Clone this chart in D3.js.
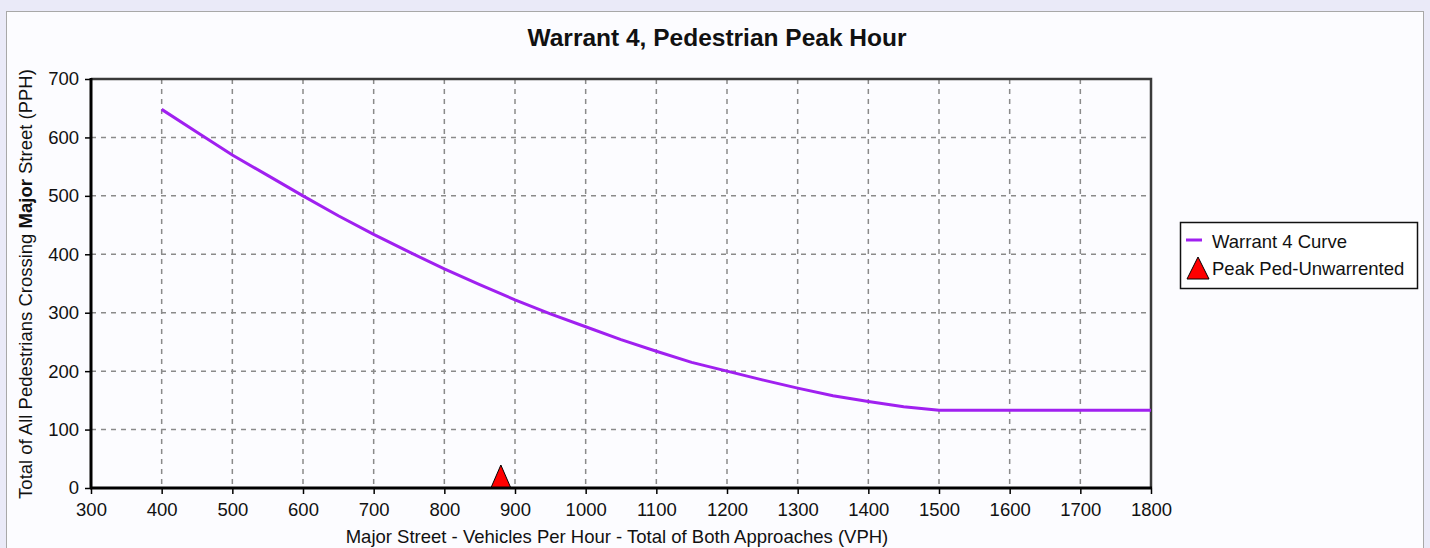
<!DOCTYPE html>
<html>
<head>
<meta charset="utf-8">
<script src="https://cdn.jsdelivr.net/npm/d3@7"></script>
<style>
  body { margin: 0; background: #eaeaf8; }
  svg { display: block; font-family: "Liberation Sans", Arial, sans-serif; }
</style>
</head>
<body>
<svg width="1430" height="548"></svg>
<script>
const title = 'Warrant 4, Pedestrian Peak Hour';
const xLabel = 'Major Street - Vehicles Per Hour - Total of Both Approaches (VPH)';
const curveName = 'Warrant 4 Curve';
const peakName = 'Peak Ped-Unwarrented';

const vph = [400, 450, 500, 550, 600, 650, 700, 750, 800, 850, 900, 950, 1000,
  1050, 1100, 1150, 1200, 1250, 1300, 1350, 1400, 1450, 1500, 1800];
const pph = [648, 609, 570, 535, 500, 466, 434, 404, 375, 348, 322, 298, 276,
  254, 234, 215, 200, 185, 171, 158, 148, 139, 133, 133];

const peakVph = [880];
const peakPph = [0];

const xTicks = d3.range(300, 1801, 100);
const yTicks = d3.range(0, 701, 100);

const fontSize = 18.5;
const svg = d3.select('svg');

// panel
svg.append('rect')
  .attr('x', 6.5).attr('y', 11.5)
  .attr('width', 1417).attr('height', 560)
  .attr('fill', '#fcfcff')
  .attr('stroke', '#a8a8a8');

const pLeft = 91, pRight = 1151, pTop = 79, pBottom = 488;

const xScale = d3.scaleLinear().domain([300, 1800]).range([pLeft, pRight]);
const yScale = d3.scaleLinear().domain([0, 700]).range([pBottom, pTop]);

// grid
const grid = svg.append('g')
  .attr('stroke', '#8a8a8a')
  .attr('stroke-width', 1.5)
  .attr('stroke-dasharray', '5,5');
grid.selectAll('.gx').data(xTicks.slice(1, -1))
  .enter().append('line')
    .attr('x1', d => xScale(d)).attr('x2', d => xScale(d))
    .attr('y1', pTop).attr('y2', pBottom);
grid.selectAll('.gy').data(yTicks.slice(1, -1))
  .enter().append('line')
    .attr('x1', pLeft).attr('x2', pRight)
    .attr('y1', d => yScale(d)).attr('y2', d => yScale(d));

// top / right border
svg.append('path')
  .attr('d', `M${pLeft},${pTop}H${pRight}V${pBottom}`)
  .attr('fill', 'none')
  .attr('stroke', '#3a3a3a')
  .attr('stroke-width', 2.5);

// curve
const line = d3.line()
  .x((d, i) => xScale(vph[i]))
  .y(d => yScale(d));

svg.append('path')
  .datum(pph)
  .attr('d', line)
  .attr('fill', 'none')
  .attr('stroke', '#a020f0')
  .attr('stroke-width', 3);

// peak marker
const tri = (cx, by, w, h) => `M${cx - w / 2},${by}L${cx},${by - h}L${cx + w / 2},${by}Z`;
svg.selectAll('.peak').data(peakVph)
  .enter().append('path')
    .attr('class', 'peak')
    .attr('d', (d, i) => tri(xScale(d), yScale(peakPph[i]), 20, 23))
    .attr('fill', '#ff0000')
    .attr('stroke', '#000')
    .attr('stroke-width', 1);

// axes
const xAxis = d3.axisBottom(xScale)
  .tickValues(xTicks)
  .tickFormat(d3.format('d'))
  .tickSize(6)
  .tickPadding(9);
const yAxis = d3.axisLeft(yScale)
  .tickValues(yTicks)
  .tickFormat(d3.format('d'))
  .tickSize(6)
  .tickPadding(6);

const xAxisG = svg.append('g')
  .attr('transform', `translate(0,${pBottom})`)
  .call(xAxis);
const yAxisG = svg.append('g')
  .attr('transform', `translate(${pLeft},0)`)
  .call(yAxis);

[xAxisG, yAxisG].forEach(g => {
  g.attr('font-size', fontSize).attr('font-family', null);
  g.select('.domain').remove();
  g.selectAll('.tick line').attr('stroke', '#000').attr('stroke-width', 1.5);
  g.selectAll('.tick text').attr('fill', '#111');
});

svg.append('line')
  .attr('x1', pLeft - 1).attr('x2', pRight + 1)
  .attr('y1', pBottom).attr('y2', pBottom)
  .attr('stroke', '#000').attr('stroke-width', 3);
svg.append('line')
  .attr('x1', pLeft).attr('x2', pLeft)
  .attr('y1', pTop - 1).attr('y2', pBottom + 1)
  .attr('stroke', '#000').attr('stroke-width', 3);

// title
svg.append('text')
  .attr('x', 717).attr('y', 46)
  .attr('text-anchor', 'middle')
  .attr('font-size', 24.5)
  .attr('font-weight', 'bold')
  .attr('fill', '#111')
  .text(title);

// axis labels
svg.append('text')
  .attr('x', 617).attr('y', 543)
  .attr('text-anchor', 'middle')
  .attr('font-size', fontSize)
  .attr('fill', '#111')
  .text(xLabel);

const yl = svg.append('text')
  .attr('transform', 'translate(32,284) rotate(-90)')
  .attr('text-anchor', 'middle')
  .attr('font-size', fontSize)
  .attr('fill', '#111');
yl.append('tspan').text('Total of All Pedestrians Crossing ');
yl.append('tspan').attr('font-weight', 'bold').text('Major');
yl.append('tspan').text(' Street (PPH)');

// legend
const lg = svg.append('g').attr('transform', 'translate(1180,222)');
lg.append('rect')
  .attr('x', 0.5).attr('y', 0.5)
  .attr('width', 237).attr('height', 66)
  .attr('fill', '#fff')
  .attr('stroke', '#111')
  .attr('stroke-width', 1.5);
lg.append('line')
  .attr('x1', 6).attr('x2', 22)
  .attr('y1', 18).attr('y2', 18)
  .attr('stroke', '#a020f0').attr('stroke-width', 3);
lg.append('text')
  .attr('x', 32).attr('y', 26)
  .attr('font-size', fontSize).attr('fill', '#111')
  .text(curveName);
lg.append('path')
  .attr('d', tri(18, 57, 22, 22))
  .attr('fill', '#ff0000')
  .attr('stroke', '#000');
lg.append('text')
  .attr('x', 32).attr('y', 53)
  .attr('font-size', fontSize).attr('fill', '#111')
  .text(peakName);
</script>
</body>
</html>
